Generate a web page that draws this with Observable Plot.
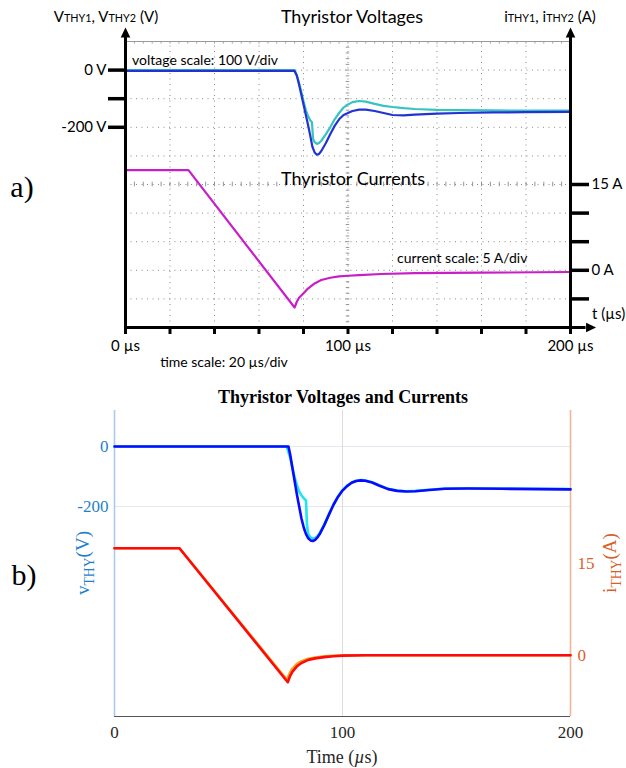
<!DOCTYPE html>
<html>
<head>
<meta charset="utf-8">
<script src="https://cdn.jsdelivr.net/npm/d3@7"></script>
<script src="https://cdn.jsdelivr.net/npm/@observablehq/plot@0.6"></script>
<style>
  body { margin: 0; background: #fff; }
  #fig { position: relative; width: 626px; height: 768px; overflow: hidden; background: #fff; }
  #fig svg { position: absolute; left: 0; }
  .lbl { position: absolute; white-space: nowrap; line-height: 1; }
  .sa { font-family: Lato, "Open Sans", sans-serif; color: #000; }
  .sb { font-family: "Liberation Serif", "DejaVu Serif", serif; }
  .sc { font-size: 0.72em; }
</style>
</head>
<body>
<div id="fig"></div>
<script>
// ---------------- Panel a) : oscilloscope measurement ----------------
const tV1a   = [0, 76, 77, 78, 79, 80, 81, 82, 83, 84, 85, 86, 87, 88, 90, 92, 94, 96, 98, 100, 102, 105, 108, 112, 116, 120, 125, 130, 140, 150, 165, 180, 200];
const vThy1a = [-3, -3, -20, -50, -85, -120, -155, -190, -228, -268, -288, -296, -293, -283, -256, -224, -195, -172, -157, -150, -143, -138, -138, -143, -150, -157, -158, -156, -152, -150, -148, -147, -146];
const tV2a   = [0, 76, 77, 78, 79, 80, 81, 82, 83, 83.8, 84.3, 85, 86, 87, 88, 90, 92, 94, 96, 98, 100, 102, 105, 108, 112, 116, 120, 125, 130, 140, 150, 165, 180, 200];
const vThy2a = [0, 0, -18, -45, -75, -108, -138, -160, -175, -182, -240, -252, -258, -255, -247, -225, -200, -172, -150, -131, -120, -112, -108, -110, -118, -125, -129, -133, -136, -139, -140, -141, -142, -142];
const tIa    = [0, 28.3, 76, 77, 78, 80, 82, 85, 88, 92, 96, 100, 105, 115, 130, 160, 200];
const iThy1a = [17.5, 17.5, -6.5, -5.5, -4.8, -4.0, -3.2, -2.3, -1.7, -1.3, -1.05, -0.95, -0.85, -0.65, -0.5, -0.42, -0.3];

const tDom = [0, 200];
const vDomA = [-900, 100];      // 100 V/div, 10 divisions
const iDomA = [-10, 40];        // 5 A/div, 10 divisions
const vTicksA = [0, -100, -200];
const vTickLabelsA = ["0 V", "", "-200 V"];
const iTicksA = [15, 10, 5, 0, -5];
const iTickLabelsA = ["15 A", "", "", "0 A", ""];
const tTicksA = [0, 20, 40, 60, 80, 100, 120, 140, 160, 180, 200];
const tTickLabelsA = ["0 µs", "", "", "", "", "100 µs", "", "", "", "", "200 µs"];

// ---------------- Panel b) : simulation ----------------
const tV1b   = [0, 76.3, 77, 78, 79, 80, 81, 82, 83, 84, 85, 86, 87, 88, 89, 90, 92, 94, 96, 98, 100, 102, 104, 106, 108, 110, 113, 116, 120, 124, 128, 132, 138, 145, 155, 170, 200];
const vThy1b = [0, 0, -25, -70, -115, -160, -200, -240, -270, -292, -306, -313, -315, -311, -303, -292, -262, -228, -195, -168, -147, -132, -121, -115, -113, -114, -120, -130, -142, -148, -150, -149, -145, -141, -140, -141, -143];
const tV2b   = [0, 75.5, 77, 78, 79, 80, 81, 82, 83, 84, 84.4, 85, 86, 87, 88, 89, 90, 92, 94, 96, 98, 100, 102, 104, 106, 108, 110, 113, 116, 120, 124, 128, 132, 138, 145, 155, 170, 200];
const vThy2b = [0, 0, -35, -70, -103, -128, -150, -163, -172, -180, -260, -292, -303, -307, -305, -299, -289, -260, -227, -194, -167, -146, -131, -120, -114, -112, -113, -119, -129, -141, -147, -149, -148, -144, -140, -139, -140, -142];
const tI1b   = [0, 28.5, 76, 77, 78, 80, 82, 85, 88, 92, 96, 100, 110, 200];
const iThy1b = [17.5, 17.5, -4.4, -3.4, -2.7, -1.8, -1.25, -0.75, -0.5, -0.3, -0.15, -0.06, 0, 0];
const tI2b   = [0, 28.5, 75.6, 77, 78, 80, 82, 85, 88, 92, 96, 100, 110, 200];
const iThy2b = [17.5, 17.5, -4.0, -2.8, -2.2, -1.4, -0.95, -0.55, -0.35, -0.18, -0.08, -0.03, 0, 0];

const vDomB = [-900, 120];
const iDomB = [-10, 40];
const vTicksB = [0, -200];
const iTicksB = [15, 0];
const tTicksB = [0, 100, 200];

// ---------------- build ----------------
const zip = (ts, vs, key) => ts.map((t, i) => ({t, [key]: vs[i]}));
const iToVA = d3.scaleLinear(iDomA, vDomA);
const iToVB = d3.scaleLinear(iDomB, vDomB);
const fig = document.getElementById("fig");

const gridTA = d3.range(20, 200, 20);
const gridVA = d3.range(-800, 100, 100);
const minorTA = d3.range(0, 201, 4);
const minorVA = d3.range(-900, 101, 20);
const vCenterA = (vDomA[0] + vDomA[1]) / 2;
const vArrowA = vDomA[1] + 14;
const tArrowA = 207;
const iTicksVA = iTicksA.map(iToVA);

const plotA = Plot.plot({
  width: 626, height: 360,
  marginLeft: 125, marginRight: 56, marginTop: 41, marginBottom: 33,
  x: {domain: tDom, label: null},
  y: {domain: vDomA, label: null},
  style: {fontFamily: "Lato, 'Open Sans', sans-serif", fontSize: "15px", color: "#000", background: "transparent", overflow: "visible"},
  marks: [
    Plot.ruleX(gridTA, {x: d => d, y1: vDomA[0], y2: vDomA[1], stroke: "#8a8a8a", strokeDasharray: "1,4.5"}),
    Plot.ruleY(gridVA, {y: d => d, x1: tDom[0], x2: tDom[1], stroke: "#8a8a8a", strokeDasharray: "1,4.5"}),
    Plot.ruleY([vDomA[1]], {y: d => d, x1: tDom[0], x2: tDom[1], stroke: "#9a9a9a", strokeWidth: 1.2}),
    Plot.ruleX(minorTA, {x: d => d, y1: vCenterA - 8, y2: vCenterA + 8, stroke: "#8a8a8a", strokeWidth: 0.9}),
    Plot.ruleY(minorVA, {y: d => d, x1: 99.2, x2: 100.8, stroke: "#8a8a8a", strokeWidth: 0.9}),
    Plot.ruleX(minorTA, {x: d => d, y1: vDomA[1] - 9, y2: vDomA[1], stroke: "#9a9a9a", strokeWidth: 0.9}),
    Plot.line(zip(tIa, iThy1a, "i"), {x: "t", y: d => iToVA(d.i), stroke: "#c81ec8", strokeWidth: 2.2}),
    Plot.line(zip(tV2a, vThy2a, "v"), {x: "t", y: "v", stroke: "#36c3c3", strokeWidth: 2.2}),
    Plot.line(zip(tV1a, vThy1a, "v"), {x: "t", y: "v", stroke: "#2233d2", strokeWidth: 2.2}),
    // axis lines with arrows
    Plot.ruleX(tDom, {x: d => d, y1: vDomA[0], y2: vArrowA, stroke: "#000", strokeWidth: 3}),
    Plot.ruleY([vDomA[0]], {y: d => d, x1: tDom[0], x2: tArrowA, stroke: "#000", strokeWidth: 3}),
    Plot.vector(tDom, {x: d => d, y: () => vArrowA, shape: "spike", length: 10, r: 4.8, rotate: 0, fill: "#000", stroke: "none", anchor: "start"}),
    Plot.vector([vDomA[0]], {x: () => tArrowA, y: d => d, shape: "spike", length: 10, r: 4.8, rotate: 90, fill: "#000", stroke: "none", anchor: "start"}),
    Plot.axisY(vTicksA, {anchor: "left", tickSize: 17, tickPadding: 2, strokeWidth: 3.5, label: null,
      tickFormat: d => vTickLabelsA[vTicksA.indexOf(d)]}),
    Plot.axisY(iTicksVA, {anchor: "right", tickSize: 18, tickPadding: 3, strokeWidth: 3.5, label: null,
      tickFormat: d => iTickLabelsA[iTicksVA.indexOf(d)]}),
    Plot.axisX(tTicksA, {anchor: "bottom", tickSize: 7, tickPadding: 6, strokeWidth: 3, label: null,
      tickFormat: d => tTickLabelsA[tTicksA.indexOf(d)]})
  ]
});
plotA.style.top = "0px";
fig.appendChild(plotA);

const iTicksVB = iTicksB.map(iToVB);
const plotB = Plot.plot({
  width: 626, height: 388,
  marginLeft: 114, marginRight: 56, marginTop: 30, marginBottom: 52,
  x: {domain: tDom, label: null},
  y: {domain: vDomB, label: null},
  style: {fontFamily: "'Liberation Serif', 'DejaVu Serif', serif", fontSize: "17px", background: "transparent", overflow: "visible"},
  marks: [
    Plot.ruleY(vTicksB, {y: d => d, x1: tDom[0], x2: tDom[1], stroke: "#e2e9f1", strokeWidth: 1.2}),
    Plot.ruleX([100], {x: d => d, y1: vDomB[0], y2: vDomB[1], stroke: "#dcdcdc", strokeWidth: 1}),
    Plot.ruleX([tDom[0]], {x: d => d, y1: vDomB[0], y2: vDomB[1], stroke: "#a8cceb", strokeWidth: 1.6}),
    Plot.ruleX([tDom[1]], {x: d => d, y1: vDomB[0], y2: vDomB[1], stroke: "#f1b59c", strokeWidth: 1.6}),
    Plot.ruleY([vDomB[0]], {y: d => d, x1: tDom[0], x2: tDom[1], stroke: "#555", strokeWidth: 1.2}),
    Plot.line(zip(tV2b, vThy2b, "v"), {x: "t", y: "v", stroke: "#1ee6f2", strokeWidth: 2.6}),
    Plot.line(zip(tV1b, vThy1b, "v"), {x: "t", y: "v", stroke: "#0a0aff", strokeWidth: 2.6}),
    Plot.line(zip(tI2b, iThy2b, "i"), {x: "t", y: d => iToVB(d.i), stroke: "#eca81c", strokeWidth: 2.6}),
    Plot.line(zip(tI1b, iThy1b, "i"), {x: "t", y: d => iToVB(d.i), stroke: "#ff0a0a", strokeWidth: 2.6}),
    Plot.axisY(vTicksB, {anchor: "left", tickSize: 0, tickPadding: 6, color: "#1f7fcc", label: null, tickFormat: d => String(d)}),
    Plot.axisY(iTicksVB, {anchor: "right", tickSize: 0, tickPadding: 7, color: "#d95f2a", label: null,
      tickFormat: d => String(iTicksB[iTicksVB.indexOf(d)])}),
    Plot.axisX(tTicksB, {anchor: "bottom", tickSize: 0, tickPadding: 9, color: "#262626", label: null, tickFormat: d => String(d)})
  ]
});
plotB.style.top = "380px";
fig.appendChild(plotB);

// ---------------- text ----------------
function put(html, x, y, cls, css = "", anchor = "middle", rot = 0) {
  const el = document.createElement("div");
  el.className = "lbl " + cls;
  el.innerHTML = html;
  const tx = anchor === "start" ? "0" : anchor === "end" ? "-100%" : "-50%";
  el.style.cssText = `left:${x}px;top:${y}px;transform:translate(${tx},-50%)${rot ? ` rotate(${rot}deg)` : ""};${css}`;
  fig.appendChild(el);
}
put('V<span class="sc">THY1</span>, V<span class="sc">THY2</span> (V)', 106, 16, "sa", "font-size:15px");
put("Thyristor Voltages", 352, 16, "sa", "font-size:18px");
put('i<span class="sc">THY1</span>, i<span class="sc">THY2</span> (A)', 550, 16, "sa", "font-size:15px");
put("voltage scale: 100 V/div", 132, 60, "sa", "font-size:14px", "start");
put("Thyristor Currents", 353, 178, "sa", "font-size:18px");
put("current scale: 5 A/div", 397, 258, "sa", "font-size:14px", "start");
put("t (µs)", 592, 313, "sa", "font-size:15px", "start");
put("time scale: 20 µs/div", 224, 362, "sa", "font-size:14px");
put("a)", 22, 187, "sb", "font-size:30px");

put("<b>Thyristor Voltages and Currents</b>", 343, 397, "sb", "font-size:18px");
put("b)", 24, 575, "sb", "font-size:30px");
put('v<sub style="font-size:0.72em">THY</sub>(V)', 85, 563, "sb", "font-size:19px;color:#1f7fcc", "middle", -90);
put('i<sub style="font-size:0.72em">THY</sub>(A)', 612, 563, "sb", "font-size:19px;color:#d95f2a", "middle", -90);
put("Time (<i>µ</i>s)", 342, 757, "sb", "font-size:18px;color:#262626");
</script>
</body>
</html>
